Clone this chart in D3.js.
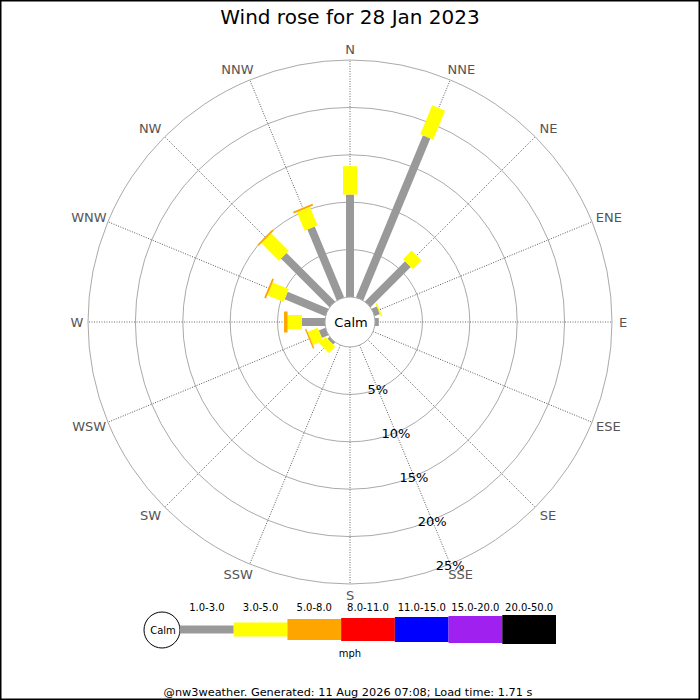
<!DOCTYPE html>
<html>
<head>
<meta charset="utf-8">
<script src="https://cdn.jsdelivr.net/npm/d3@7"></script>
<style>
  body { margin: 0; background: #fff; }
  svg text { font-family: "DejaVu Sans", sans-serif; }
</style>
</head>
<body>
<div id="chart"></div>
<script>
// Compass directions, clockwise from north
const directions = ["N", "NNE", "NE", "ENE", "E", "ESE", "SE", "SSE", "S", "SSW", "SW", "WSW", "W", "WNW", "NW", "NNW"];

// Speed bands (mph) and their colours
const speedBands = ["1.0-3.0", "3.0-5.0", "5.0-8.0", "8.0-11.0", "11.0-15.0", "15.0-20.0", "20.0-50.0"];
const bandColours = ["#999999", "#ffff00", "#ffa500", "#ff0000", "#0000ff", "#a020f0", "#000000"];

// Percent of time per direction, one array per speed band
const band1to3 = [10.8, 18.5, 6.0, 0.6, 0.4, 0, 0, 0, 0, 0, 0.3, 0.75, 2.45, 4.65, 7.25, 8.1];
const band3to5 = [3.0, 3.3, 1.3, 0.15, 0, 0, 0, 0, 0, 0, 0.95, 1.15, 1.5, 1.85, 2.6, 2.1];
const band5to8 = [0, 0, 0, 0, 0, 0, 0, 0, 0, 0, 0, 0.15, 0.37, 0.2, 0.2, 0.2];
const band8to11 = [0, 0, 0, 0, 0, 0, 0, 0, 0, 0, 0, 0, 0, 0, 0, 0];
const band11to15 = [0, 0, 0, 0, 0, 0, 0, 0, 0, 0, 0, 0, 0, 0, 0, 0];
const band15to20 = [0, 0, 0, 0, 0, 0, 0, 0, 0, 0, 0, 0, 0, 0, 0, 0];
const band20to50 = [0, 0, 0, 0, 0, 0, 0, 0, 0, 0, 0, 0, 0, 0, 0, 0];
const bandValues = [band1to3, band3to5, band5to8, band8to11, band11to15, band15to20, band20to50];

// Ring ticks (percent)
const ringTicks = [5, 10, 15, 20, 25];

const titleText = "Wind rose for 28 Jan 2023";
const footerText = "@nw3weather. Generated: 11 Aug 2026 07:08; Load time: 1.71 s";

// Layout
const W = 700, H = 700;
const cx = 350, cy = 322;
const calmR = 25, outerR = 262;
const barWidths = [8, 14, 21, 23, 25, 27, 29]; // thicker bars for faster winds

const svg = d3.select("#chart").append("svg")
  .attr("width", W)
  .attr("height", H);

// outer border
svg.append("rect")
  .attr("x", 0.75).attr("y", 0.75)
  .attr("width", W - 1.5).attr("height", H - 1.5)
  .attr("fill", "none")
  .attr("stroke", "#000")
  .attr("stroke-width", 1.5);

svg.append("text")
  .attr("x", W / 2)
  .attr("y", 24)
  .attr("text-anchor", "middle")
  .style("font-size", "20px")
  .text(titleText);

// radial scale: percent -> pixels, starting at edge of calm circle
const rScale = d3.scaleLinear()
  .domain([0, d3.max(ringTicks)])
  .range([calmR, outerR]);

const angleScale = d3.scaleBand()
  .domain(directions)
  .range([0, 360]);

const rad = d => angleScale(d) * Math.PI / 180;

const rose = svg.append("g")
  .attr("transform", `translate(${cx},${cy})`);

// rings
rose.selectAll(".ring")
  .data(ringTicks)
  .enter()
  .append("circle")
  .attr("class", "ring")
  .attr("r", d => rScale(d))
  .attr("fill", "none")
  .attr("stroke", "#aaa")
  .attr("stroke-width", 1);

// spokes
rose.selectAll(".spoke")
  .data(directions)
  .enter()
  .append("line")
  .attr("class", "spoke")
  .attr("transform", d => `rotate(${angleScale(d)})`)
  .attr("x1", 0).attr("y1", -calmR)
  .attr("x2", 0).attr("y2", -outerR)
  .attr("stroke", "#444")
  .attr("stroke-width", 0.8)
  .attr("stroke-dasharray", "1,1.5");

// direction labels; wide labels on the diagonals get pushed sideways a bit
const labelR = 273;
rose.selectAll(".dir-label")
  .data(directions)
  .enter()
  .append("text")
  .attr("class", "dir-label")
  .attr("text-anchor", "middle")
  .attr("dominant-baseline", "central")
  .attr("fill", "#555")
  .style("font-size", "13px")
  .text(d => d)
  .each(function(d) {
    const w = this.getComputedTextLength();
    const a = rad(d);
    const s = Math.sin(a);
    const push = 0.6 * (w / 2) * Math.sqrt(Math.abs(Math.sin(2 * a)));
    d3.select(this)
      .attr("x", labelR * s + Math.sign(Math.round(s * 1000)) * push)
      .attr("y", -labelR * Math.cos(a));
  });

// stacked bars
const rows = directions.map((dir, i) => {
  const row = { dir: dir };
  speedBands.forEach((b, j) => { row[b] = bandValues[j][i]; });
  return row;
});
const stacked = d3.stack().keys(speedBands)(rows);

stacked.forEach((series, j) => {
  rose.append("g")
    .selectAll("rect")
    .data(series.filter(d => d[1] - d[0] > 0))
    .enter()
    .append("rect")
    .attr("transform", d => `rotate(${angleScale(d.data.dir)})`)
    .attr("x", -barWidths[j] / 2)
    .attr("y", d => -rScale(d[1]))
    .attr("width", barWidths[j])
    .attr("height", d => rScale(d[1]) - rScale(d[0]))
    .attr("fill", bandColours[j]);
});

// calm circle
rose.append("circle")
  .attr("r", calmR)
  .attr("fill", "#fff")
  .attr("stroke", "#aaa")
  .attr("stroke-width", 1);

rose.append("text")
  .attr("x", 1).attr("y", 0)
  .attr("text-anchor", "middle")
  .attr("dominant-baseline", "central")
  .style("font-size", "13px")
  .text("Calm");

// ring labels along the SSE spoke
const ringAngle = rad("SSE");
rose.selectAll(".ring-label")
  .data(ringTicks)
  .enter()
  .append("text")
  .attr("class", "ring-label")
  .attr("x", d => rScale(d) * Math.sin(ringAngle))
  .attr("y", d => -rScale(d) * Math.cos(ringAngle) + 1)
  .attr("text-anchor", "middle")
  .attr("dominant-baseline", "central")
  .style("font-size", "13px")
  .text(d => d + "%");

// Legend
const legend = svg.append("g").attr("id", "legend");
const legendY = 629.5;
const legendX = d3.scaleBand()
  .domain(speedBands)
  .range([180, 556]);

legend.append("circle")
  .attr("cx", 162).attr("cy", 630)
  .attr("r", 18)
  .attr("fill", "#fff")
  .attr("stroke", "#000")
  .attr("stroke-width", 1);

legend.append("text")
  .attr("x", 163).attr("y", 630)
  .attr("text-anchor", "middle")
  .attr("dominant-baseline", "central")
  .style("font-size", "10px")
  .text("Calm");

legend.selectAll(".leg-bar")
  .data(speedBands)
  .enter()
  .append("rect")
  .attr("class", "leg-bar")
  .attr("x", d => legendX(d))
  .attr("y", (d, i) => legendY - barWidths[i] / 2)
  .attr("width", legendX.bandwidth())
  .attr("height", (d, i) => barWidths[i])
  .attr("fill", (d, i) => bandColours[i]);

legend.selectAll(".leg-label")
  .data(speedBands)
  .enter()
  .append("text")
  .attr("class", "leg-label")
  .attr("x", d => legendX(d) + legendX.bandwidth() / 2)
  .attr("y", 611)
  .attr("text-anchor", "middle")
  .style("font-size", "10px")
  .text(d => d);

legend.append("text")
  .attr("x", 350).attr("y", 657)
  .attr("text-anchor", "middle")
  .style("font-size", "10px")
  .text("mph");

svg.append("text")
  .attr("x", 348).attr("y", 696)
  .attr("text-anchor", "middle")
  .style("font-size", "11.3px")
  .text(footerText);
</script>
</body>
</html>
